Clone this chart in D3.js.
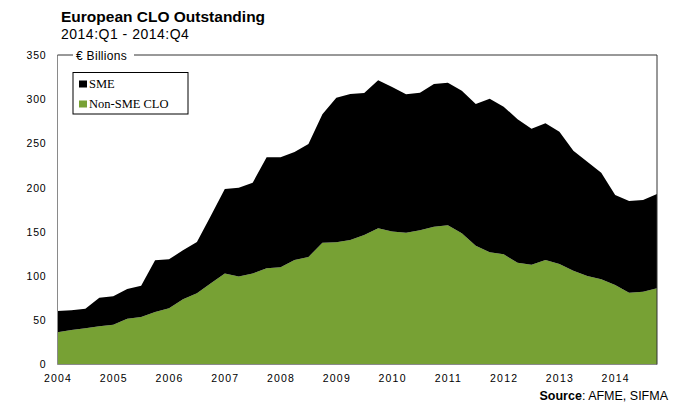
<!DOCTYPE html>
<html>
<head>
<meta charset="utf-8">
<script src="https://cdn.jsdelivr.net/npm/d3@7"></script>
<style>
  body { margin: 0; background: #fff; }
  svg text { font-family: "Liberation Sans", Arial, sans-serif; }
</style>
</head>
<body>
<div class="clo-chart"></div>
<script>
// quarterly, 2004:Q1 .. 2014:Q4, EUR billions
var quarters = [];
for (var yr = 2004; yr <= 2014; yr++) {
    for (var q = 0; q < 4; q++) quarters.push(yr + q / 4);
}
var nonSme = [36.4, 39, 40.9, 43.2, 45, 51.8, 53.7, 59.4, 63.5, 73.7, 80.5, 91.8,
              102.8, 99.5, 103, 108.8, 109.9, 118.2, 121.6, 137.7, 138.2, 140.8, 146.4, 154,
              150.4, 149, 151.7, 155.8, 157.4, 148.4, 134.4, 126.9, 124.6, 115.1, 112.7, 118.2,
              113.7, 106.1, 100.1, 96.3, 90, 81.2, 82.3, 86.2];
var sme = [24.1, 22.3, 22.2, 32.4, 32.1, 33.6, 35.4, 58.4, 55.5, 55.4, 58, 76.5,
           95.7, 100.5, 102.6, 125.5, 124.4, 122.1, 127.7, 145.2, 163.5, 165.1, 160.6, 167.4,
           163.4, 156.5, 155.7, 161.4, 161.3, 161.2, 160.2, 173.7, 167, 162.2, 154, 154.5,
           149.6, 135.7, 129.2, 120.6, 101.7, 103.7, 103.7, 106.6];
var yearTicks = [2004, 2005, 2006, 2007, 2008, 2009, 2010, 2011, 2012, 2013, 2014];
var valueTicks = [0, 50, 100, 150, 200, 250, 300, 350];
var seriesNames = ["Non-SME CLO", "SME"];
var legendNames = ["SME", "Non-SME CLO"];

var W = 692, H = 403;
var pLeft = 57.5, pRight = 657, pTop = 55, pBottom = 364.5;
var green = "#77a134";

var rows = quarters.map(function(d, i) {
    return {t: d, "Non-SME CLO": nonSme[i], "SME": sme[i]};
});
var stacked = d3.stack().keys(seriesNames)(rows);

var x = d3.scaleLinear().domain([2004, 2014.75]).range([pLeft, pRight]);
var y = d3.scaleLinear().domain([0, 350]).range([pBottom, pTop]);
var color = d3.scaleOrdinal().domain(seriesNames).range([green, "#000"]);

var svg = d3.select(".clo-chart").append("svg")
    .attr("width", W).attr("height", H);

svg.append("text").attr("x", 61).attr("y", 22)
    .style("font-size", "15.5px").style("font-weight", "bold")
    .text("European CLO Outstanding");
svg.append("text").attr("x", 61).attr("y", 39)
    .style("font-size", "14px").style("letter-spacing", "0.5px")
    .text("2014:Q1 - 2014:Q4");

var area = d3.area()
    .x(function(d) { return x(d.data.t); })
    .y0(function(d) { return y(d[0]); })
    .y1(function(d) { return y(d[1]); });

svg.append("g").selectAll("path")
    .data(stacked).enter().append("path")
    .attr("d", area)
    .attr("fill", function(d) { return color(d.key); });

// frame: grey left/bottom, dark top/right
svg.append("path")
    .attr("d", "M" + pLeft + "," + pTop + "V" + pBottom + "H" + pRight)
    .attr("fill", "none").attr("stroke", "#8a8a8a").attr("stroke-width", 1);
svg.append("path")
    .attr("d", "M" + pLeft + "," + pTop + "H" + pRight + "V" + pBottom)
    .attr("fill", "none").attr("stroke", "#333").attr("stroke-width", 1);

// unit label sitting on the top border
svg.append("rect").attr("x", 73).attr("y", 49).attr("width", 61).attr("height", 12).attr("fill", "#fff");
svg.append("text").attr("x", 76).attr("y", 60)
    .style("font-size", "12px").style("letter-spacing", "0.3px")
    .text("€ Billions");

// axes without tick lines
var yAxis = svg.append("g")
    .attr("transform", "translate(" + pLeft + ",0)")
    .call(d3.axisLeft(y).tickValues(valueTicks).tickSize(0).tickPadding(11));
yAxis.select(".domain").remove();
yAxis.selectAll("text")
    .style("font-family", "Liberation Sans, Arial, sans-serif")
    .style("font-size", "10.5px").style("letter-spacing", "0.8px").attr("fill", "#000");

var xAxis = svg.append("g")
    .attr("transform", "translate(0," + pBottom + ")")
    .call(d3.axisBottom(x).tickValues(yearTicks).tickFormat(d3.format("d")).tickSize(0).tickPadding(10));
xAxis.select(".domain").remove();
xAxis.selectAll("text")
    .style("font-family", "Liberation Sans, Arial, sans-serif")
    .style("font-size", "10.5px").style("letter-spacing", "1.2px").attr("fill", "#000");

// legend
var legend = svg.append("g").attr("transform", "translate(73,72.5)");
legend.append("rect").attr("width", 115).attr("height", 41.5)
    .attr("fill", "#fff").attr("stroke", "#000").attr("stroke-width", 1);
var item = legend.selectAll(".item").data(legendNames).enter().append("g")
    .attr("transform", function(d, i) { return "translate(6," + (8 + i * 20) + ")"; });
item.append("rect").attr("width", 8).attr("height", 7)
    .attr("fill", function(d) { return color(d); });
item.append("text").attr("x", 10).attr("y", 7.5)
    .style("font-family", "Liberation Serif, Times New Roman, serif")
    .style("font-size", "12.5px")
    .text(function(d) { return d; });

var src = svg.append("text").attr("x", 668).attr("y", 400)
    .attr("text-anchor", "end").style("font-size", "12.5px");
src.append("tspan").style("font-weight", "bold").text("Source");
src.append("tspan").text(": AFME,  SIFMA");
</script>
</body>
</html>
